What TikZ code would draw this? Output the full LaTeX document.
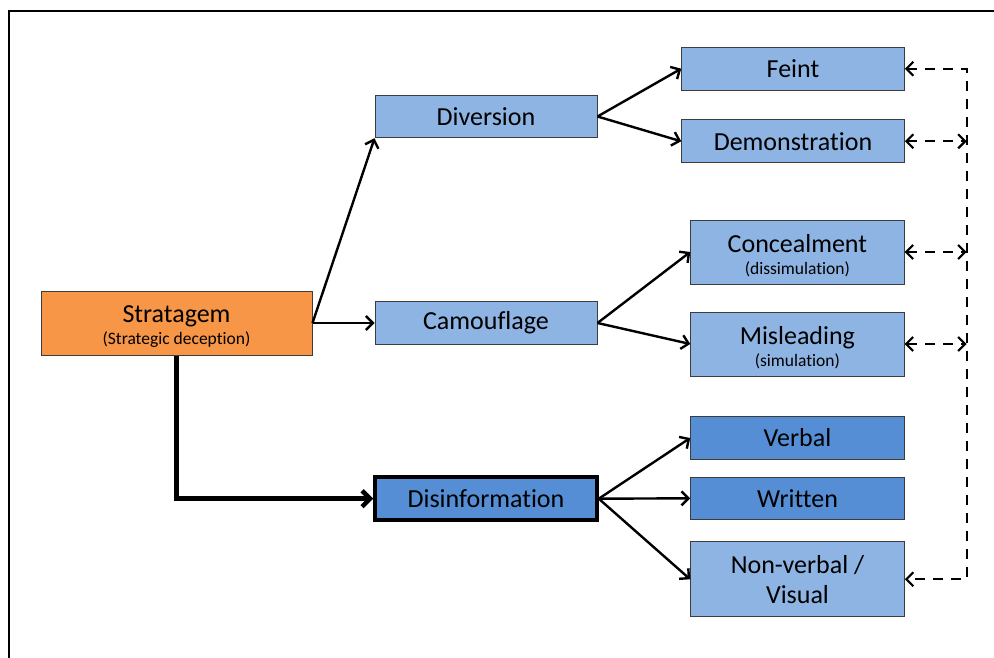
\documentclass[tikz,border=0pt]{standalone}
\usepackage{fontspec}
\setmainfont{Carlito}[RawFeature=-liga]
\usepackage{tikz}
\usetikzlibrary{arrows.meta,calc}
\definecolor{st_orange}{RGB}{247, 150, 70}
\definecolor{st_light}{RGB}{142, 180, 227}
\definecolor{st_dark}{RGB}{85, 142, 213}
\definecolor{st_edge}{RGB}{60, 60, 60}
\newcommand{\smalltxt}[1]{{\fontsize{17.5}{20}\selectfont #1}}
\newcommand{\toprule}{\rule{0pt}{25pt}}
\tikzstyle{ob}=[rectangle,fill=st_orange,draw=st_edge,line width=1pt,
  align=center,inner sep=0pt,font=\fontsize{26}{30}\selectfont]
\tikzstyle{lb}=[rectangle,fill=st_light,draw=st_edge,line width=1pt,
  align=center,inner sep=0pt,font=\fontsize{26}{30}\selectfont]
\tikzstyle{db}=[rectangle,fill=st_dark,draw=st_edge,line width=1pt,
  align=center,inner sep=0pt,font=\fontsize{26}{30}\selectfont]
\tikzstyle{arr}=[line width=2.4pt,-{Straight Barb[length=7pt,width=14pt]}]
\tikzstyle{dsh}=[line width=2.2pt,dash pattern=on 10pt off 8pt,
  {Straight Barb[length=7pt,width=14pt]}-{Straight Barb[length=7pt,width=14pt]}]
\tikzstyle{none}=[]

\begin{document}
\begin{tikzpicture}[x=1pt,y=-1pt]
            \useasboundingbox (0,0) rectangle (994,658);
            \draw [line width=2.5pt] (9,658) -- (9,11) -- (994,11);
            \node [style=ob, minimum width=271pt, minimum height=64pt] (strat) at (176.5, 323) {\toprule Stratagem\\[-8pt]\smalltxt{(Strategic deception)}};
            \node [style=lb, minimum width=222pt, minimum height=42.5pt] (div) at (486, 116.5) {Diversion};
            \node [style=lb, minimum width=222pt, minimum height=42.5pt] (cam) at (486, 323) {Camouflage};
            \node [style=db, line width=3.5pt, draw=black, minimum width=222pt, minimum height=43pt] (dis) at (486, 498.7) {Disinformation};
            \node [style=lb, minimum width=222.6pt, minimum height=42.7pt] (feint) at (793, 68.7) {Feint};
            \node [style=lb, minimum width=222.6pt, minimum height=42.7pt] (demo) at (793, 141.3) {Demonstration};
            \node [style=lb, minimum width=213.3pt, minimum height=64pt] (conc) at (797.4, 252) {\toprule Concealment\\[-8pt]\smalltxt{(dissimulation)}};
            \node [style=lb, minimum width=213.3pt, minimum height=64pt] (misl) at (797.4, 344) {\toprule Misleading\\[-8pt]\smalltxt{(simulation)}};
            \node [style=db, minimum width=213.6pt, minimum height=42.6pt] (verbal) at (797.5, 438) {Verbal};
            \node [style=db, minimum width=213.6pt, minimum height=42pt] (written) at (797.5, 498.3) {Written};
            \node [style=lb, minimum width=213.6pt, minimum height=74.7pt] (nonv) at (797.5, 579.3) {Non-verbal /\\Visual};
            \coordinate (bus) at (966.7, 68.7);
            \draw [style=arr] (strat.east) to (div.south west);
            \draw [style=arr] (strat.east) to (cam.west);
            \draw [line width=4.5pt, -{Straight Barb[length=8pt,width=16pt]}] (strat.south) |- (dis.west);
            \draw [style=arr] (div.east) to (feint.west);
            \draw [style=arr] (div.east) to (demo.west);
            \draw [style=arr] (cam.east) to (conc.west);
            \draw [style=arr] (cam.east) to (misl.west);
            \draw [style=arr] (dis.east) to (verbal.west);
            \draw [style=arr] (dis.east) to (written.west);
            \draw [style=arr] (dis.east) to (nonv.west);
            \draw [style=dsh] (feint.east) -- (bus) -- (bus |- nonv.east) -- (nonv.east);
            \draw [style=dsh] (demo.east) -- (demo.east -| bus);
            \draw [style=dsh] (conc.east) -- (conc.east -| bus);
            \draw [style=dsh] (misl.east) -- (misl.east -| bus);
    \end{tikzpicture}
\end{document}
